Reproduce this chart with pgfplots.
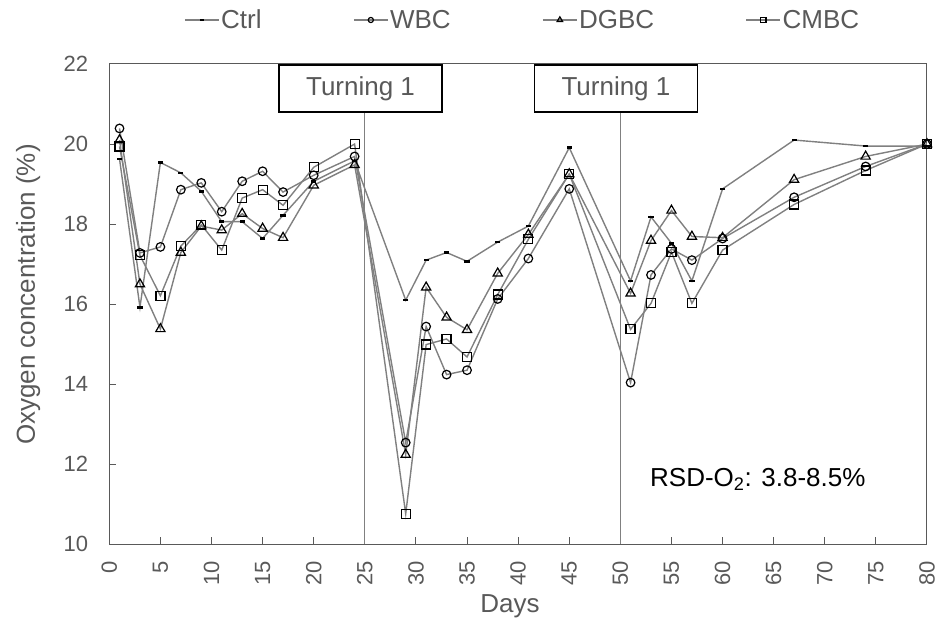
\documentclass[border=0pt]{standalone}
\usepackage{pgfplots}
\pgfplotsset{compat=1.18}
\usepackage{fontspec}
\setmainfont{Liberation Sans}

\definecolor{linegray}{HTML}{808080}
\definecolor{txtgray}{HTML}{595959}
\definecolor{framegray}{HTML}{595959}

% Oxygen concentration (%) per sampling day
\pgfplotstableread{
day  ctrl   wbc    dgbc   cmbc
1    19.63  20.39  20.10  19.94
3    15.92  17.28  16.50  17.22
5    19.54  17.43  15.38  16.21
7    19.28  18.86  17.29  17.45
9    18.82  19.03  17.95  17.98
11   18.06  18.31  17.85  17.35
13   18.06  19.07  18.26  18.65
15   17.64  19.32  17.89  18.86
17   18.22  18.80  17.66  18.47
20   19.07  19.22  18.97  19.42
24   19.58  19.69  19.48  20.00
29   16.10  12.54  12.24  10.76
31   17.10  15.44  16.42  14.99
33   17.29  14.24  15.67  15.13
35   17.07  14.35  15.36  14.68
38   17.55  16.13  16.77  16.24
41   17.95  17.14  17.74  17.62
45   19.91  18.88  19.25  19.25
51   16.58  14.04  16.27  15.37
53   18.18  16.73  17.59  16.02
55   17.52  17.38  18.34  17.30
57   16.58  17.10  17.69  16.02
60   18.88  17.64  17.66  17.35
67   20.10  18.67  19.11  18.49
74   19.95  19.44  19.69  19.34
80   19.95  20.00  20.00  20.00
}\oxygen

\begin{document}
\begin{tikzpicture}
\begin{axis}[
  scale only axis,
  width=817.7pt, height=480.3pt,
  xmin=0, xmax=80, ymin=10, ymax=22,
  xtick={0,5,...,80}, ytick={10,12,...,22},
  tick align=inside, tick pos=left,
  major tick length=7pt,
  axis line style={framegray, line width=1pt},
  tick style={framegray, line width=1pt},
  /pgf/number format/assume math mode=true,
  ticklabel style={font=\fontsize{22}{26}\selectfont, text=txtgray, inner sep=0pt},
  xticklabel style={rotate=90, anchor=east},
  xticklabel shift=17pt,
  yticklabel style={anchor=east},
  yticklabel shift=21pt,
  xlabel={Days},
  ylabel={Oxygen concentration (\%)},
  label style={font=\fontsize{26}{30}\selectfont, text=txtgray, inner sep=0pt},
  xlabel style={at={(axis description cs:0.49,-0.1416)}, anchor=base},
  ylabel style={at={(axis description cs:-0.0909,0.52)}, anchor=base},
  legend columns=4,
  legend style={draw=none, fill=none,
    at={(axis description cs:0.5053,1.0916)}, anchor=center,
    font=\fontsize{26}{30}\selectfont, text=txtgray,
    nodes={inner xsep=1.5pt, inner ysep=0pt},
    /tikz/every even column/.append style={column sep=90pt}},
  legend image code/.code={%
    \draw[mark repeat=2, mark phase=2, #1, every mark/.append style={scale=0.6}]
      plot coordinates {(0pt,0pt) (17pt,0pt) (34pt,0pt)};},
]
% turning events
\draw[linegray, line width=0.8pt] (axis cs:25,10) -- (axis cs:25,22);
\draw[linegray, line width=0.8pt] (axis cs:50,10) -- (axis cs:50,22);

\addplot[linegray, line width=1.4pt, mark=-, mark size=2.6pt,
  mark options={black, solid, line width=2.6pt}]
  table[x=day, y=ctrl] {\oxygen};
\addlegendentry{Ctrl}
\addplot[linegray, line width=1.4pt, mark=o, mark size=4.3pt,
  mark options={black, solid, line width=1.2pt}]
  table[x=day, y=wbc] {\oxygen};
\addlegendentry{WBC}
\addplot[linegray, line width=1.4pt, mark=triangle, mark size=5.3pt,
  mark options={black, solid, line width=1.2pt}]
  table[x=day, y=dgbc] {\oxygen};
\addlegendentry{DGBC}
\addplot[linegray, line width=1.4pt, mark=square, mark size=4.5pt,
  mark options={black, solid, line width=1.2pt}]
  table[x=day, y=cmbc] {\oxygen};
\addlegendentry{CMBC}

\node[draw=black, line width=1.6pt, fill=white, minimum width=163pt,
  minimum height=47pt, anchor=north, inner sep=0pt,
  font=\fontsize{26}{30}\selectfont, text=txtgray]
  at (axis cs:24.58,22) {Turning 1};
\node[draw=black, line width=1.6pt, fill=white, minimum width=163pt,
  minimum height=47pt, anchor=north, inner sep=0pt,
  font=\fontsize{26}{30}\selectfont, text=txtgray]
  at (axis cs:49.57,22) {Turning 1};
\node[anchor=base west, inner sep=0pt, font=\fontsize{26}{30}\selectfont]
  at (axis cs:52.9,11.44) {RSD-O\textsubscript{2}: 3.8-8.5\%};
\end{axis}
\pgfresetboundingbox
\path[use as bounding box] (-109.3pt,-74.7pt) rectangle (828.7pt,544.3pt);
\end{tikzpicture}
\end{document}
